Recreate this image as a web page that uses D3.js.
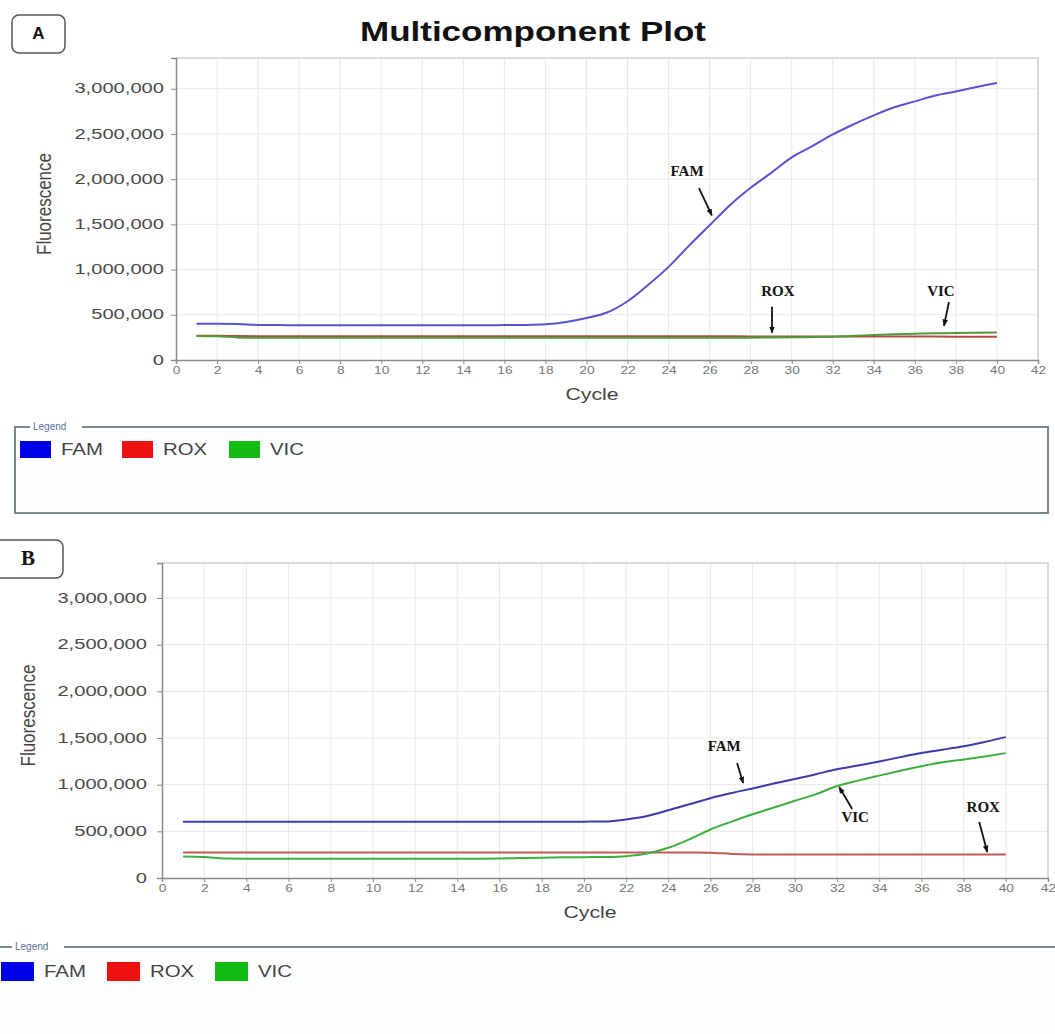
<!DOCTYPE html>
<html>
<head>
<meta charset="utf-8">
<script src="https://cdn.jsdelivr.net/npm/d3@7"></script>
<style>
  html, body { margin: 0; padding: 0; background: #fff; }
  svg { display: block; }
</style>
</head>
<body>
<svg id="chart" width="1055" height="1034"></svg>
<script>
// ---------------- DATA ----------------
const cycles = d3.range(1, 41);
const dyes = ["FAM", "ROX", "VIC"];
const yTicks = [0, 500000, 1000000, 1500000, 2000000, 2500000, 3000000];
const xTicks = d3.range(0, 43, 2);

// Panel A
const famA = [400000, 400000, 398000, 388000, 386000, 385000, 385000, 385000, 385000, 385000,
              385000, 385000, 385000, 385000, 385000, 386000, 388000, 395000, 420000, 465000,
              525000, 650000, 830000, 1030000, 1265000, 1490000, 1715000, 1905000, 2070000, 2240000,
              2365000, 2495000, 2605000, 2705000, 2795000, 2860000, 2925000, 2970000, 3020000, 3065000];
const roxA = [268000, 267000, 265000, 263000, 263000, 263000, 263000, 263000, 263000, 263000,
              263000, 263000, 263000, 263000, 263000, 263000, 263000, 263000, 263000, 263000,
              263000, 263000, 263000, 263000, 262000, 262000, 262000, 261000, 261000, 260000,
              260000, 260000, 260000, 260000, 259000, 259000, 259000, 258000, 258000, 258000];
const vicA = [266000, 262000, 250000, 246000, 245000, 245000, 245000, 245000, 245000, 245000,
              245000, 245000, 245000, 245000, 245000, 245000, 245000, 245000, 245000, 245000,
              245000, 245000, 245000, 245000, 245000, 246000, 246000, 247000, 249000, 251000,
              253000, 258000, 267000, 277000, 285000, 291000, 296000, 299000, 302000, 305000];

// Panel B
const famB = [604000, 604000, 604000, 604000, 604000, 604000, 604000, 604000, 604000, 604000,
              604000, 604000, 604000, 604000, 604000, 604000, 604000, 604000, 604000, 604000,
              606000, 628000, 665000, 725000, 790000, 855000, 910000, 960000, 1012000, 1060000,
              1112000, 1165000, 1205000, 1248000, 1295000, 1340000, 1375000, 1412000, 1458000, 1510000];
const roxB = [273000, 273000, 273000, 273000, 273000, 273000, 273000, 273000, 273000, 273000,
              273000, 273000, 273000, 273000, 273000, 273000, 273000, 273000, 273000, 273000,
              273000, 273000, 273000, 273000, 273000, 271000, 258000, 253000, 253000, 253000,
              253000, 253000, 253000, 253000, 253000, 253000, 253000, 253000, 253000, 253000];
const vicB = [230000, 224000, 208000, 206000, 206000, 206000, 206000, 206000, 206000, 206000,
              206000, 206000, 206000, 206000, 206000, 208000, 214000, 218000, 221000, 223000,
              225000, 234000, 262000, 324000, 414000, 520000, 604000, 683000, 755000, 827000,
              899000, 985000, 1043000, 1097000, 1150000, 1198000, 1240000, 1270000, 1302000, 1338000];

// Annotations: [label, textCycle, textValue, arrowFromCycle, arrowFromValue, arrowToCycle, arrowToValue]
const annotA = [
  ["FAM", 24.9, 2070000, 25.48, 1900000, 26.11, 1600000],
  ["ROX", 29.33, 745000, 29.04, 590000, 29.04, 300000],
  ["VIC", 37.27, 745000, 37.66, 642000, 37.42, 378000]
];
const annotB = [
  ["FAM", 26.65, 1393000, 27.26, 1232000, 27.55, 1018000],
  ["VIC", 32.86, 632000, 32.72, 739000, 32.1, 975000],
  ["ROX", 38.93, 739000, 38.74, 600000, 39.12, 279000]
];

// ---------------- STYLE ----------------
const legendColors = { FAM: "#0000e6", ROX: "#ee1111", VIC: "#11bb11" };

const svg = d3.select("#chart");
const defs = svg.append("defs");
defs.append("marker")
  .attr("id", "arrow").attr("viewBox", "0 0 10 10")
  .attr("refX", 9).attr("refY", 5)
  .attr("markerWidth", 7).attr("markerHeight", 7)
  .attr("markerUnits", "userSpaceOnUse")
  .attr("orient", "auto")
  .append("path").attr("d", "M0,1 L10,5 L0,9 Z").attr("fill", "#111");

function drawPanel(cfg) {
  const g = svg.append("g");
  const x = d3.scaleLinear().domain([0, 42]).range([cfg.left, cfg.right]);
  const y = d3.scaleLinear().domain([0, cfg.yMax]).range([cfg.bottom, cfg.top]);

  // grid
  g.append("g").selectAll("line").data(xTicks.filter(d => d > 0)).join("line")
    .attr("x1", d => x(d)).attr("x2", d => x(d))
    .attr("y1", cfg.top).attr("y2", cfg.bottom)
    .attr("stroke", "#e8e8e8").attr("stroke-width", 1);
  g.append("g").selectAll("line").data(yTicks.filter(d => d > 0)).join("line")
    .attr("x1", cfg.left).attr("x2", cfg.right)
    .attr("y1", d => y(d)).attr("y2", d => y(d))
    .attr("stroke", "#e8e8e8").attr("stroke-width", 1);

  // frame (top/right)
  g.append("path")
    .attr("d", `M${cfg.left},${cfg.top} H${cfg.right} V${cfg.bottom}`)
    .attr("fill", "none").attr("stroke", "#cfcfcf").attr("stroke-width", 1.5);

  // axes
  const yAxis = g.append("g").attr("transform", `translate(${cfg.left},0)`)
    .call(d3.axisLeft(y).tickValues(yTicks).tickSize(5).tickFormat(d3.format(",")));
  yAxis.select(".domain").attr("stroke", "#8a8a8a").attr("stroke-width", 1.5);
  yAxis.selectAll(".tick line").attr("stroke", "#8a8a8a");
  yAxis.selectAll(".tick text")
    .attr("x", null).attr("dy", null)
    .attr("font-family", "Liberation Sans, Arial, sans-serif")
    .attr("font-size", 15.5).attr("fill", "#4a4a4a")
    .attr("text-anchor", "end").attr("dominant-baseline", "middle")
    .attr("transform", `translate(${-cfg.yLabelGap},0) scale(1.3,1)`);

  const xAxis = g.append("g").attr("transform", `translate(0,${cfg.bottom})`)
    .call(d3.axisBottom(x).tickValues(xTicks).tickSize(4).tickFormat(d3.format("d")));
  xAxis.select(".domain").attr("stroke", "#8a8a8a").attr("stroke-width", 1.5);
  xAxis.selectAll(".tick line").attr("stroke", "#8a8a8a");
  xAxis.selectAll(".tick text")
    .attr("y", null).attr("dy", null)
    .attr("font-family", "Liberation Sans, Arial, sans-serif")
    .attr("font-size", 11).attr("fill", "#777")
    .attr("text-anchor", "middle").attr("dominant-baseline", "middle")
    .attr("transform", "translate(0,11) scale(1.25,1)");

  // axis titles
  g.append("text")
    .attr("transform", `translate(${(cfg.left + cfg.right) / 2 - 15},${cfg.bottom + 36}) scale(1.25,1)`)
    .attr("text-anchor", "middle").attr("dominant-baseline", "middle")
    .attr("font-family", "Liberation Sans, Arial, sans-serif")
    .attr("font-size", 17).attr("fill", "#444").text("Cycle");
  g.append("text")
    .attr("transform", `translate(${cfg.yTitleX},${(cfg.top + cfg.bottom) / 2 - 5}) rotate(-90) scale(1,1.15)`)
    .attr("text-anchor", "middle").attr("dominant-baseline", "middle")
    .attr("font-family", "Liberation Sans, Arial, sans-serif")
    .attr("font-size", 17).attr("fill", "#444").text("Fluorescence");

  // lines
  const line = d3.line().x((d, i) => x(cycles[i])).y(d => y(d)).curve(d3.curveMonotoneX);
  const series = [
    { name: "ROX", values: cfg.rox, color: cfg.colors.ROX },
    { name: "VIC", values: cfg.vic, color: cfg.colors.VIC },
    { name: "FAM", values: cfg.fam, color: cfg.colors.FAM }
  ];
  g.append("g").selectAll("path").data(series).join("path")
    .attr("d", d => line(d.values))
    .attr("fill", "none").attr("stroke", d => d.color)
    .attr("stroke-width", 2).attr("stroke-linejoin", "round");

  // annotations
  const ann = g.append("g");
  cfg.annot.forEach(a => {
    ann.append("text")
      .attr("x", x(a[1])).attr("y", y(a[2]))
      .attr("text-anchor", "middle").attr("dominant-baseline", "middle")
      .attr("font-family", "Liberation Serif, 'Times New Roman', serif")
      .attr("font-weight", "bold").attr("font-size", 15).attr("fill", "#111")
      .text(a[0]);
    ann.append("line")
      .attr("x1", x(a[3])).attr("y1", y(a[4]))
      .attr("x2", x(a[5])).attr("y2", y(a[6]))
      .attr("stroke", "#111").attr("stroke-width", 1.8)
      .attr("marker-end", "url(#arrow)");
  });

  // legend box
  const lg = cfg.legend;
  g.append("rect")
    .attr("x", lg.x).attr("y", lg.y).attr("width", lg.w).attr("height", lg.h)
    .attr("fill", "#fdfeff").attr("stroke", "#6e7a84").attr("stroke-width", 1.8);
  g.append("rect")
    .attr("x", lg.labelX - 3).attr("y", lg.y - 4).attr("width", 52).attr("height", 8)
    .attr("fill", "#fff");
  g.append("text")
    .attr("x", lg.labelX).attr("y", lg.y).attr("dominant-baseline", "middle")
    .attr("font-family", "Liberation Sans, Arial, sans-serif")
    .attr("font-size", 10).attr("fill", "#5a6f9a").text("Legend");
  const items = g.append("g").selectAll("g").data(dyes).join("g")
    .attr("transform", (d, i) => `translate(${lg.itemX[i]},${lg.itemY})`);
  items.append("rect")
    .attr("x", 0).attr("y", 0).attr("width", lg.sw).attr("height", lg.sh)
    .attr("fill", d => legendColors[d]);
  items.append("text")
    .attr("transform", `translate(${lg.sw + 10},${lg.sh / 2 + 1}) scale(1.2,1)`)
    .attr("dominant-baseline", "middle")
    .attr("font-family", "Liberation Sans, Arial, sans-serif")
    .attr("font-size", 17).attr("fill", "#444").text(d => d);

  // panel label
  const pl = cfg.panelLabel;
  g.append("rect")
    .attr("x", pl.x).attr("y", pl.y).attr("width", pl.w).attr("height", pl.h)
    .attr("rx", 7).attr("fill", "#fff").attr("stroke", "#555").attr("stroke-width", 1.5);
  g.append("text")
    .attr("x", pl.tx).attr("y", pl.y + pl.h / 2 + 1)
    .attr("text-anchor", "middle").attr("dominant-baseline", "middle")
    .attr("font-family", pl.font).attr("font-weight", "bold")
    .attr("font-size", pl.size).attr("fill", "#111").text(pl.text);
}

drawPanel({
  left: 176, right: 1038, top: 58, bottom: 360, yMax: 3340000,
  yLabelGap: 12, yTitleX: 46,
  fam: famA, rox: roxA, vic: vicA,
  colors: { FAM: "#5a52cf", ROX: "#b5483f", VIC: "#4f9a3a" },
  annot: annotA,
  legend: { x: 15, y: 427, w: 1033, h: 86, labelX: 33, itemX: [20, 122, 229], itemY: 441, sw: 31, sh: 17 },
  panelLabel: { x: 12, y: 15, w: 53, h: 38, tx: 38.5, text: "A", font: "Liberation Sans, Arial, sans-serif", size: 17 }
});

drawPanel({
  left: 162, right: 1048, top: 563, bottom: 878, yMax: 3375000,
  yLabelGap: 15, yTitleX: 30,
  fam: famB, rox: roxB, vic: vicB,
  colors: { FAM: "#3d3aa8", ROX: "#c05a55", VIC: "#3fae3f" },
  annot: annotB,
  legend: { x: -5, y: 947, w: 1070, h: 120, labelX: 15, itemX: [1, 107, 215], itemY: 962, sw: 33, sh: 19 },
  panelLabel: { x: -10, y: 540, w: 73, h: 38, tx: 28, text: "B", font: "Liberation Serif, 'Times New Roman', serif", size: 21 }
});

// title
svg.append("text")
  .attr("x", 533).attr("y", 34)
  .attr("text-anchor", "middle").attr("dominant-baseline", "middle")
  .attr("font-family", "Liberation Sans, Arial, sans-serif")
  .attr("font-weight", "bold").attr("font-size", 27).attr("fill", "#111")
  .attr("textLength", 346).attr("lengthAdjust", "spacingAndGlyphs")
  .text("Multicomponent Plot");
</script>
</body>
</html>
